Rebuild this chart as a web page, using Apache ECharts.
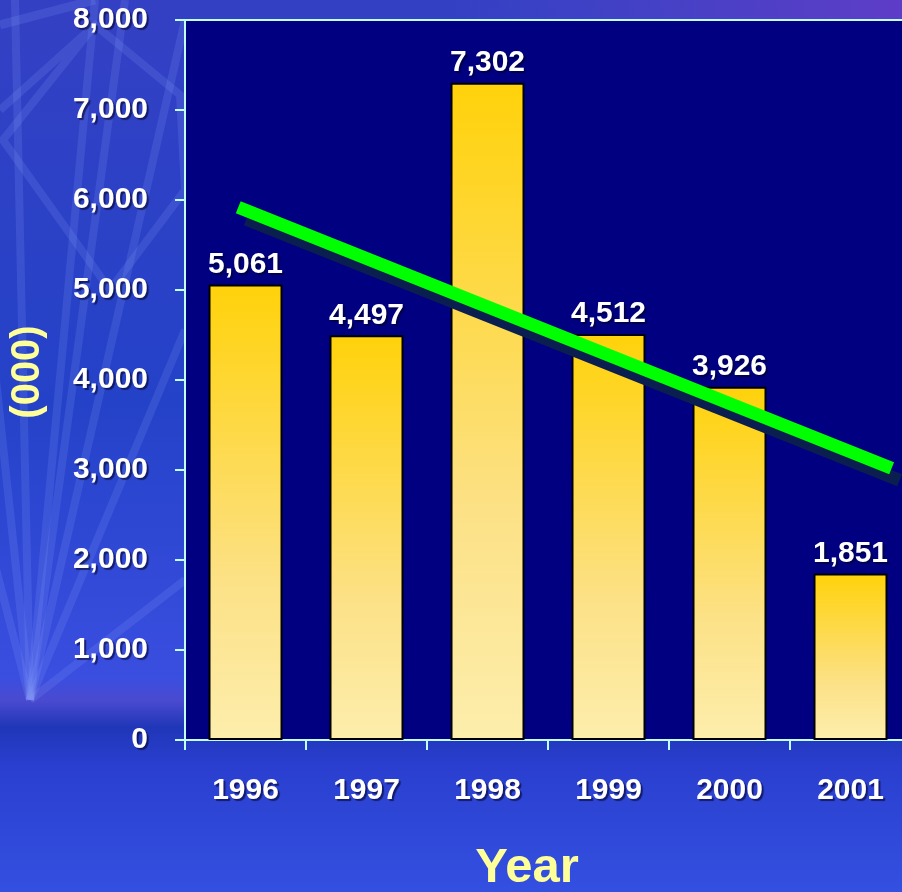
<!DOCTYPE html>
<html>
<head>
<meta charset="utf-8">
<script src="https://cdn.jsdelivr.net/npm/echarts@6/dist/echarts.min.js"></script>
<style>
  html, body { margin: 0; padding: 0; background: #2a40c0; overflow: hidden; }
  /* canvas runs a little past the right edge of the window, so the last column is cut */
  #chart { width: 912px; height: 892px; }
</style>
</head>
<body>
<div id="chart"></div>
<script>
// Yearly totals, in thousands
const years = ['1996', '1997', '1998', '1999', '2000', '2001'];
const totals = [5061, 4497, 7302, 4512, 3926, 1851];

// Trend line end points (category position, value)
const trendX = [-0.06, 5.34];
const trendY = [5920, 3020];

const yMin = 0;
const yMax = 8000;
const yStep = 1000;

const FONT = '"Liberation Sans", Arial, sans-serif';
const AXIS_CYAN = '#C0FFFF';

const chart = echarts.init(document.getElementById('chart'), null, { renderer: 'canvas' });

// Faint star-burst strokes in the backdrop, left of the plot
const STROKE = 'rgba(140,170,255,0.16)';
const deco = [];
const hub = [30, 700];
[[-40, 40], [15, 0], [95, 0], [125, 0], [185, 20], [185, 330], [185, 580], [-40, 430]].forEach(p => {
  deco.push({
    type: 'line', silent: true, z: -5,
    shape: { x1: hub[0], y1: hub[1], x2: p[0], y2: p[1] },
    style: { stroke: STROKE, lineWidth: 8 }
  });
});
deco.push({
  type: 'polyline', silent: true, z: -5,
  shape: { points: [[0, 110], [95, 25], [180, 95], [185, 190], [110, 290], [3, 140], [95, 25]] },
  style: { stroke: STROKE, lineWidth: 8, fill: null }
});
deco.push({
  type: 'line', silent: true, z: -5,
  shape: { x1: 0, y1: 25, x2: 95, y2: 0 },
  style: { stroke: STROKE, lineWidth: 9 }
});

const option = {
  animation: false,
  backgroundColor: {
    type: 'linear', x: 0, y: 0, x2: 0, y2: 1,
    colorStops: [
      { offset: 0, color: '#3440c4' },
      { offset: 0.45, color: '#2442c8' },
      { offset: 0.76, color: '#3a4ee0' },
      { offset: 0.785, color: '#4a4ad0' },
      { offset: 0.815, color: '#2036b8' },
      { offset: 0.86, color: '#2a3fd0' },
      { offset: 1, color: '#3450e0' }
    ]
  },
  graphic: [
    {
      type: 'rect', silent: true, z: -6,
      shape: { x: 450, y: 0, width: 462, height: 20 },
      style: { fill: { type: 'linear', x: 0, y: 0, x2: 1, y2: 0,
        colorStops: [{ offset: 0, color: 'rgba(90,70,200,0)' }, { offset: 1, color: 'rgba(100,60,200,0.9)' }] } }
    },
    ...deco,
    {
      type: 'text', silent: true, z: 10,
      x: 28, y: 372, rotation: Math.PI / 2,
      style: {
        text: '(000)',
        font: 'bold 40px ' + FONT,
        fill: '#FFFF99', align: 'center', verticalAlign: 'middle',
        shadowColor: 'rgba(0,0,0,0.8)', shadowOffsetX: 3, shadowOffsetY: 3, shadowBlur: 0
      }
    },
    {
      type: 'text', silent: true, z: 10,
      x: 527, y: 868,
      style: {
        text: 'Year',
        font: 'bold 49px ' + FONT,
        fill: '#FFFF99', align: 'center', verticalAlign: 'middle',
        shadowColor: 'rgba(0,0,0,0.85)', shadowOffsetX: 3, shadowOffsetY: 3, shadowBlur: 0
      }
    }
  ],
  grid: {
    left: 185, top: 20, right: 1, bottom: 152,
    show: true, backgroundColor: '#000080',
    borderColor: AXIS_CYAN, borderWidth: 2
  },
  xAxis: [
    {
      type: 'category', data: years, position: 'bottom',
      axisLine: { show: true, onZero: false, lineStyle: { color: AXIS_CYAN, width: 2 } },
      axisTick: { show: true, length: 10, lineStyle: { color: AXIS_CYAN, width: 2 } },
      axisLabel: {
        color: '#FFFFFF', fontFamily: FONT, fontWeight: 'bold', fontSize: 30, margin: 36,
        textShadowColor: 'rgba(0,0,40,0.6)', textShadowOffsetX: 2, textShadowOffsetY: 2, textShadowBlur: 1
      },
      splitLine: { show: false }
    },
    {
      type: 'value', min: -0.5, max: 5.5, show: false
    }
  ],
  yAxis: {
    type: 'value', min: yMin, max: yMax, interval: yStep,
    axisLine: { show: true, onZero: false, lineStyle: { color: AXIS_CYAN, width: 2 } },
    axisTick: { show: true, length: 10, lineStyle: { color: AXIS_CYAN, width: 2 } },
    axisLabel: {
      color: '#FFFFFF', fontFamily: FONT, fontWeight: 'bold', fontSize: 30, margin: 37,
      formatter: v => v.toLocaleString('en-US'),
      textShadowColor: 'rgba(0,0,40,0.6)', textShadowOffsetX: 2, textShadowOffsetY: 2, textShadowBlur: 1
    },
    splitLine: { show: false }
  },
  series: [
    {
      type: 'bar', data: totals, xAxisIndex: 0, barWidth: 74,
      itemStyle: {
        borderColor: '#000000', borderWidth: 2,
        color: {
          type: 'linear', x: 0, y: 0, x2: 0, y2: 1,
          colorStops: [
            { offset: 0, color: '#FFD20A' },
            { offset: 0.65, color: '#FCE186' },
            { offset: 1, color: '#FDEEAD' }
          ]
        }
      },
      label: {
        show: true, position: 'top', distance: 5,
        color: '#FFFFFF', fontFamily: FONT, fontWeight: 'bold', fontSize: 30,
        formatter: p => p.value.toLocaleString('en-US'),
        textShadowColor: 'rgba(0,0,40,0.6)', textShadowOffsetX: 2, textShadowOffsetY: 2, textShadowBlur: 1
      },
      z: 2
    },
    {
      type: 'line', xAxisIndex: 1,
      data: trendX.map((x, i) => [x, trendY[i]]),
      symbol: 'none', z: 5,
      lineStyle: {
        color: '#00FF00', width: 13, cap: 'butt',
        shadowColor: '#0A1E50', shadowOffsetX: 8, shadowOffsetY: 12, shadowBlur: 0
      }
    }
  ]
};

chart.setOption(option);
</script>
</body>
</html>
